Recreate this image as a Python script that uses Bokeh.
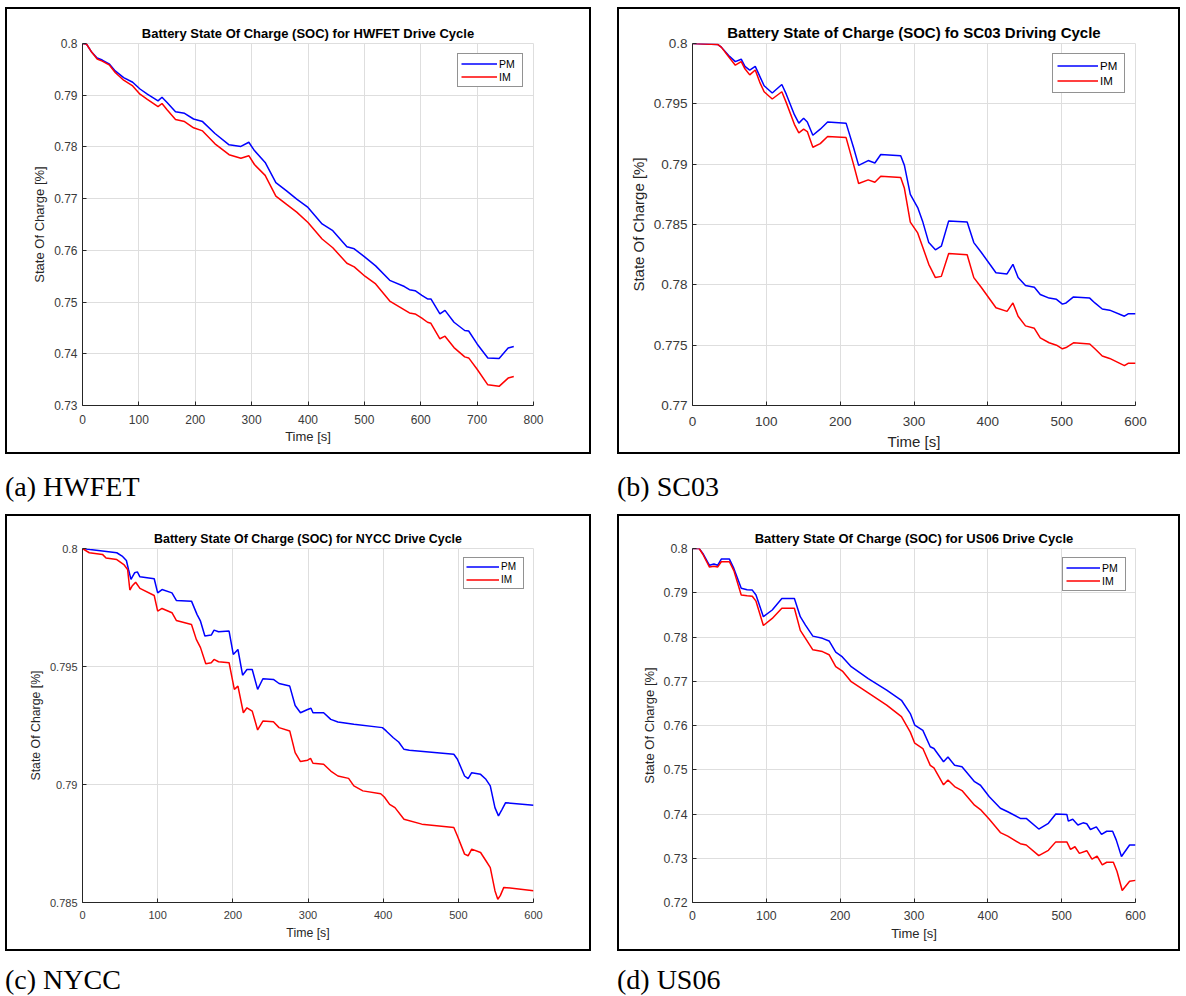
from bokeh.plotting import figure
from bokeh.layouts import row, column
from bokeh.models import Range1d, FixedTicker, CustomJSTickFormatter, Div
from bokeh.embed import file_html
from bokeh.resources import INLINE

# ---------------- data ----------------
# (a) HWFET
t_a = [0, 7, 16.5, 26, 35, 48, 58, 73, 89, 102, 115, 134, 141, 150, 165, 181, 197, 213, 235, 260,
       281, 295, 305, 324, 343, 362, 380, 400, 425, 444, 469, 482, 501, 520, 545, 571, 580, 590, 602, 612,
       618, 634, 643, 659, 678, 685, 700, 719, 739, 755, 765]
pm_a = [0.8, 0.7999, 0.7983, 0.7972, 0.7968, 0.7960, 0.7947, 0.7934, 0.7925, 0.7912,
        0.7902, 0.7889, 0.7896, 0.7886, 0.7868, 0.7865, 0.7854, 0.7849, 0.7826, 0.7804,
        0.7801, 0.7809, 0.7793, 0.7770, 0.7731, 0.7715, 0.7699, 0.7683, 0.7651, 0.7638,
        0.7607, 0.7603, 0.7587, 0.7570, 0.7542, 0.7530, 0.7524, 0.7522, 0.7513, 0.7506,
        0.7506, 0.7477, 0.7484, 0.7461, 0.7445, 0.7444, 0.7419, 0.7392, 0.7391, 0.7411, 0.7414]
im_a = [0.8, 0.7999, 0.7983, 0.7970, 0.7966, 0.7958, 0.7944, 0.7929, 0.7918, 0.7902,
        0.7892, 0.7878, 0.7884, 0.7872, 0.7853, 0.7849, 0.7837, 0.7831, 0.7806, 0.7785,
        0.7778, 0.7783, 0.7766, 0.7745, 0.7705, 0.7689, 0.7674, 0.7654, 0.7622, 0.7605,
        0.7575, 0.7568, 0.7550, 0.7535, 0.7502, 0.7485, 0.7479, 0.7477, 0.7469, 0.7461,
        0.7459, 0.7429, 0.7434, 0.7412, 0.7394, 0.7392, 0.7370, 0.7340, 0.7337, 0.7353, 0.7356]

# (b) SC03
t_b = [0, 34, 39, 49, 58, 66, 71, 77.5, 85, 91, 97, 108, 121, 127, 138, 144, 150.5, 155.5, 163, 173,
       183, 208, 218, 225, 238, 247, 255, 282, 287, 295, 305, 312, 320, 329, 337, 347, 372, 381, 391, 411,
       426, 434, 441, 451, 463, 471, 483, 493, 501, 506, 516, 538, 545, 555, 565, 585, 590, 600]
pm_b = [0.8, 0.79992, 0.7997, 0.7990, 0.7985, 0.7987, 0.7981, 0.7978, 0.7981, 0.7973,
        0.7965, 0.7959, 0.7966, 0.7958, 0.7941, 0.7934, 0.7938, 0.7935, 0.7924, 0.7929,
        0.7935, 0.7934, 0.7914, 0.7899, 0.7903, 0.7901, 0.7908, 0.7907, 0.7899, 0.7875,
        0.7864, 0.7852, 0.7835, 0.7829, 0.7832, 0.7853, 0.7852, 0.7835, 0.7827, 0.7810,
        0.7809, 0.7817, 0.7806, 0.77995, 0.7798, 0.7792, 0.7789, 0.7788, 0.7784, 0.7785,
        0.7790, 0.7789, 0.7785, 0.7780, 0.7779, 0.7774, 0.7776, 0.7776]
im_b = [0.8, 0.79992, 0.7997, 0.7989, 0.7982, 0.7985, 0.7979, 0.7974, 0.7978, 0.7968,
        0.7960, 0.7954, 0.7960, 0.7951, 0.7933, 0.7926, 0.7929, 0.7927, 0.7914, 0.7917,
        0.7923, 0.7922, 0.7900, 0.7884, 0.7887, 0.7885, 0.7890, 0.7889, 0.7880, 0.7852,
        0.7843, 0.7831, 0.7817, 0.7806, 0.7807, 0.7826, 0.7825, 0.7806, 0.7798, 0.7781,
        0.7778, 0.7785, 0.7774, 0.7766, 0.7764, 0.7756, 0.7752, 0.7750, 0.7747, 0.7748,
        0.7752, 0.7751, 0.7747, 0.7741, 0.7739, 0.7733, 0.7735, 0.7735]

# (c) NYCC
t_c_pm = [0, 10, 45.6, 52.7, 58.4, 61.2, 64.5, 69.3, 73, 76.4, 95.4, 100, 105.8, 119, 124.8,
          145, 152.3, 157, 162.8, 171.3, 175, 181, 195, 200.6, 206.8, 213, 218.8, 225.8, 233, 240,
          254, 261.5, 275.7, 282.9, 290, 299.5, 304, 306.6, 320.8, 330.3, 339.8, 361, 399, 404, 413.5,
          420.6, 427.7, 434.8, 494, 498.8, 508.3, 513, 517.8, 529.6, 536.7, 542.5, 548.7, 553.4, 558.2,
          562.9, 600]
pm_c = [0.8, 0.79996, 0.79982, 0.79968, 0.79949, 0.79911, 0.79869, 0.79897, 0.79901, 0.79880,
        0.79872, 0.79812, 0.79826, 0.79812, 0.79780, 0.79777, 0.79721, 0.79692, 0.79629, 0.79633,
        0.79654, 0.79647, 0.79650, 0.79551, 0.79572, 0.79463, 0.79487, 0.79487, 0.79403, 0.79448,
        0.79445, 0.79428, 0.79417, 0.79335, 0.79304, 0.79318, 0.79323, 0.79304, 0.79304, 0.79276,
        0.79265, 0.79255, 0.79241, 0.79227, 0.79198, 0.79180, 0.79149, 0.79145, 0.79128, 0.79107,
        0.79036, 0.79025, 0.79050, 0.79043, 0.79022, 0.78994, 0.78902, 0.78867, 0.78895, 0.78923,
        0.78912]
t_c_im = [0, 9, 26.6, 31.3, 45.6, 55, 60, 63, 66, 70.7, 76.4, 95.4, 100, 105.8, 119, 124.8, 145,
          151.4, 157, 164, 171.3, 175, 181, 195, 202, 206.8, 214, 218.8, 225.8, 233, 240, 254, 261.5,
          275.7, 282.9, 290, 299.5, 303.4, 306.6, 320.8, 330.3, 339.8, 354, 361, 373, 396.7, 401.5,
          408.6, 415.7, 427.7, 451.4, 494, 498.8, 508.3, 513, 517.8, 529.6, 536.7, 542.5, 548.7,
          552.5, 555.8, 560.5, 600]
im_c = [0.8, 0.79982, 0.79975, 0.79960, 0.79953, 0.79932, 0.79911, 0.79824, 0.79841, 0.79857,
        0.79831, 0.79801, 0.79735, 0.79746, 0.79728, 0.79695, 0.79678, 0.79615, 0.79580, 0.79512,
        0.79516, 0.79530, 0.79520, 0.79516, 0.79403, 0.79417, 0.79304, 0.79325, 0.79311, 0.79231,
        0.79269, 0.79266, 0.79241, 0.79227, 0.79135, 0.79097, 0.79103, 0.79111, 0.79090, 0.79086,
        0.79057, 0.79036, 0.79026, 0.78994, 0.78973, 0.78961, 0.78947, 0.78916, 0.78902, 0.78853,
        0.78832, 0.78818, 0.78782, 0.78705, 0.78698, 0.78726, 0.78712, 0.78677, 0.78648, 0.78550,
        0.78514, 0.78529, 0.78564, 0.78550]

# (d) US06
t_d_pm = [0, 9, 14, 23, 29, 34, 39, 50, 56, 66, 74, 81, 86, 96, 108, 121, 138, 146, 153, 163,
          176, 185, 194, 203, 215, 238, 263, 283, 295, 301, 312, 322, 327, 340, 346, 355, 365, 382, 390, 402,
          417, 427, 444, 452, 469, 482, 492, 507, 509, 515, 522, 529, 534, 539, 547, 554, 561, 569, 574, 581,
          592, 600]
pm_d = [0.8, 0.8, 0.7989, 0.7962, 0.7965, 0.7962, 0.7976, 0.7976, 0.7955, 0.7910,
        0.7907, 0.7906, 0.7895, 0.7846, 0.7861, 0.7887, 0.7887, 0.7846, 0.7827, 0.7802,
        0.7797, 0.7791, 0.7766, 0.7755, 0.7733, 0.7706, 0.7680, 0.7657, 0.7627, 0.7601,
        0.7589, 0.7552, 0.7548, 0.7518, 0.7529, 0.7510, 0.7507, 0.7473, 0.7465, 0.7439,
        0.7413, 0.7405, 0.7390, 0.7390, 0.7366, 0.7379, 0.7400, 0.7399, 0.7384, 0.7388,
        0.7375, 0.7380, 0.7378, 0.7365, 0.7371, 0.7354, 0.7361, 0.7361, 0.7341, 0.7304,
        0.7330, 0.7330]
t_d_im = [0, 9, 14, 23, 29, 34, 39, 50, 56, 66, 74, 81, 86, 96, 108, 121, 138, 146, 153, 163,
          176, 185, 194, 203, 215, 238, 263, 283, 295, 301, 312, 322, 327, 340, 346, 355, 365, 382, 390, 402,
          417, 427, 444, 452, 469, 482, 492, 507, 512, 518, 524, 534, 541, 548, 555, 561, 570, 575, 582, 592,
          600]
im_d = [0.8, 0.8, 0.7987, 0.7958, 0.7960, 0.7958, 0.7970, 0.7970, 0.7950, 0.7895,
        0.7893, 0.7892, 0.7881, 0.7826, 0.7842, 0.7865, 0.7865, 0.7815, 0.7797, 0.7771,
        0.7767, 0.7760, 0.7733, 0.7723, 0.7699, 0.7674, 0.7646, 0.7620, 0.7585, 0.7560,
        0.7548, 0.7510, 0.7504, 0.7466, 0.7477, 0.7462, 0.7453, 0.7420, 0.7410, 0.7388,
        0.7358, 0.7350, 0.7333, 0.7330, 0.7306, 0.7318, 0.7337, 0.7337, 0.7320, 0.7326,
        0.7311, 0.7317, 0.7298, 0.7305, 0.7285, 0.7291, 0.7291, 0.7270, 0.7227, 0.7248,
        0.7250]

# ticks
x_ticks_a = [0, 100, 200, 300, 400, 500, 600, 700, 800]
y_ticks_a = [0.73, 0.74, 0.75, 0.76, 0.77, 0.78, 0.79, 0.8]
x_ticks_b = [0, 100, 200, 300, 400, 500, 600]
y_ticks_b = [0.77, 0.775, 0.78, 0.785, 0.79, 0.795, 0.8]
x_ticks_c = [0, 100, 200, 300, 400, 500, 600]
y_ticks_c = [0.785, 0.79, 0.795, 0.8]
x_ticks_d = [0, 100, 200, 300, 400, 500, 600]
y_ticks_d = [0.72, 0.73, 0.74, 0.75, 0.76, 0.77, 0.78, 0.79, 0.8]

titles = ["Battery State Of Charge (SOC) for HWFET Drive Cycle",
          "Battery State of Charge (SOC) fo SC03 Driving Cycle",
          "Battery State Of Charge (SOC) for NYCC Drive Cycle",
          "Battery State Of Charge (SOC) for US06 Drive Cycle"]
captions = ["(a) HWFET", "(b) SC03", "(c) NYCC", "(d) US06"]
x_label = "Time [s]"
y_label = "State Of Charge [%]"
series_names = ["PM", "IM"]

FONT = "Liberation Sans"
AX = "#262626"
GRID = "#dedede"


def make_panel(title, tp, pm, ti, im, xr, yr, xt, yt, W, H, mb, fs, leg):
    p = figure(width=W, height=H, x_range=Range1d(*xr), y_range=Range1d(*yr),
               output_backend="svg", toolbar_location=None,
               min_border_left=mb[0], min_border_right=mb[1],
               min_border_top=mb[2], min_border_bottom=mb[3],
               background_fill_color="white", border_fill_color="white",
               styles={"border": "2px solid black"})
    p.title.text = title
    p.title.align = "center"
    p.title.text_font = FONT
    p.title.text_font_style = "bold"
    p.title.text_font_size = fs["title"]
    p.title.text_color = "black"
    p.title.standoff = fs["tstand"]
    p.outline_line_color = GRID
    p.outline_line_width = 1
    fmt = CustomJSTickFormatter(code="return String(parseFloat(tick.toFixed(4)));")
    p.xaxis.ticker = FixedTicker(ticks=xt)
    p.yaxis.ticker = FixedTicker(ticks=yt)
    p.yaxis.formatter = fmt
    p.xaxis.formatter = fmt
    p.xaxis.axis_label = x_label
    p.yaxis.axis_label = y_label
    for ax in (p.xaxis[0], p.yaxis[0]):
        ax.axis_line_color = AX
        ax.axis_line_width = 1
        ax.major_tick_line_color = AX
        ax.major_tick_in = 4
        ax.major_tick_out = 0
        ax.minor_tick_line_color = None
        ax.major_label_text_font = FONT
        ax.major_label_text_font_size = fs["tick"]
        ax.major_label_text_color = "#3a3a3a"
        ax.axis_label_text_font = FONT
        ax.axis_label_text_font_size = fs["label"]
        ax.axis_label_text_font_style = "normal"
        ax.axis_label_text_color = "#262626"
    p.xaxis.major_label_standoff = fs["xstand"]
    p.xaxis.axis_label_standoff = fs["xlstand"]
    p.yaxis.major_label_standoff = 5
    p.yaxis.axis_label_standoff = 4
    p.xgrid.grid_line_color = GRID
    p.ygrid.grid_line_color = GRID
    p.line(tp, pm, color="#0000ff", line_width=1.5, legend_label=series_names[0])
    p.line(ti, im, color="#ff0000", line_width=1.5, legend_label=series_names[1])
    lg = p.legend[0]
    lg.location = "top_right"
    lg.border_line_color = AX
    lg.border_line_width = 1
    lg.background_fill_color = "white"
    lg.background_fill_alpha = 1
    lg.label_text_font = FONT
    lg.label_text_font_size = leg["fs"]
    lg.label_text_color = "black"
    lg.glyph_width = leg["gw"]
    lg.glyph_height = leg["h"]
    lg.label_height = leg["h"]
    lg.label_standoff = 2
    lg.padding = leg["pad"]
    lg.spacing = 0
    lg.margin = leg["margin"]
    return p


pa = make_panel(titles[0], t_a, pm_a, t_a, im_a, (0, 800), (0.73, 0.8), x_ticks_a, y_ticks_a,
                586, 447, (75, 60, 34, 51),
                {"title": "13px", "tick": "12px", "label": "13px", "xstand": 9, "xlstand": 2, "tstand": 6},
                {"fs": "10.5px", "gw": 36, "h": 13, "pad": 3, "margin": 10})
pb = make_panel(titles[1], t_b, pm_b, t_b, im_b, (0, 600), (0.77, 0.8), x_ticks_b, y_ticks_b,
                563, 447, (73, 47, 33, 51),
                {"title": "15px", "tick": "13.5px", "label": "15px", "xstand": 11, "xlstand": 4, "tstand": 6},
                {"fs": "11.5px", "gw": 41, "h": 15, "pad": 4, "margin": 10})
pc = make_panel(titles[2], t_c_pm, pm_c, t_c_im, im_c, (0, 600), (0.785, 0.8), x_ticks_c, y_ticks_c,
                586, 437, (75, 60, 31, 51),
                {"title": "12.4px", "tick": "11px", "label": "12.3px", "xstand": 8, "xlstand": 4, "tstand": 5},
                {"fs": "10px", "gw": 33, "h": 13, "pad": 2, "margin": 9})
pd_ = make_panel(titles[3], t_d_pm, pm_d, t_d_im, im_d, (0, 600), (0.72, 0.8), x_ticks_d, y_ticks_d,
                 563, 437, (73, 47, 32, 51),
                 {"title": "13px", "tick": "12.3px", "label": "13px", "xstand": 8, "xlstand": 3, "tstand": 5},
                 {"fs": "10.5px", "gw": 34, "h": 13, "pad": 3, "margin": 9})


def cap(text, w, h, top):
    html = ('<div style="font-family:\'Liberation Serif\',\'Times New Roman\',serif;font-size:28px;'
            'line-height:28px;margin-top:%dpx;color:#000;white-space:nowrap">%s</div>' % (top, text))
    return Div(text=html, width=w, height=h, styles={"margin": "0", "padding": "0"})


row1 = row(pa, pb, spacing=26)
caps1 = row(cap(captions[0], 586, 60, 19), cap(captions[1], 563, 60, 19), spacing=26)
row2 = row(pc, pd_, spacing=26)
caps2 = row(cap(captions[2], 586, 44, 15), cap(captions[3], 563, 44, 15), spacing=26)
root = column(row1, caps1, row2, caps2, spacing=0,
              styles={"margin-left": "5px", "margin-top": "7px"})

open("out.html", "w").write(file_html(root, INLINE))
